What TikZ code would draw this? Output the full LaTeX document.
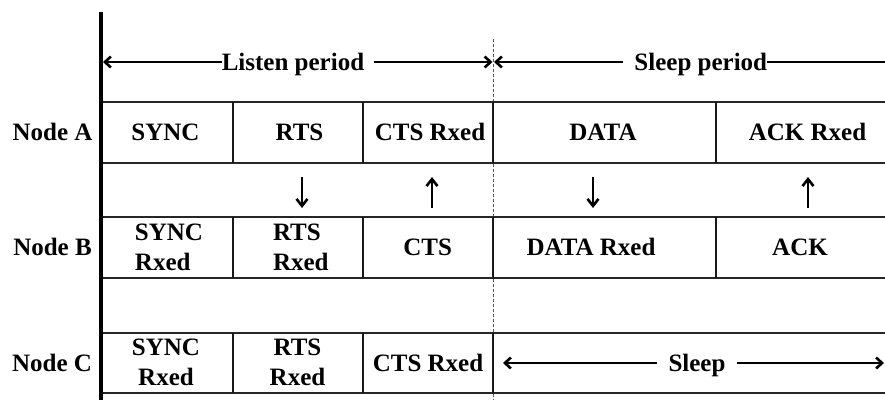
\documentclass[tikz,border=0pt]{standalone}
\usepackage{fontspec}
\setmainfont{Liberation Serif}
\usetikzlibrary{arrows.meta,calc}
\begin{document}
\begin{tikzpicture}[x=1pt,y=-1pt,
  txt/.style={font=\bfseries\fontsize{25}{30}\selectfont, inner sep=0pt, anchor=base},
  twoL/.style={font=\bfseries\fontsize{25}{30}\selectfont, inner sep=0pt, align=left},
  twoC/.style={font=\bfseries\fontsize{25}{30}\selectfont, inner sep=0pt, align=center},
  rowline/.style={draw=black!85, line width=1.3pt},
  divline/.style={draw=black!90, line width=1.2pt},
  axisline/.style={line width=4pt},
  guide/.style={draw=black!65, line width=1pt, dash pattern=on 3pt off 2pt},
  parr/.style={line width=2.2pt, -{Straight Barb[length=6pt,width=11pt,line width=2.6pt]}},
  varr/.style={line width=2.2pt, -{Straight Barb[length=7pt,width=11pt,line width=2.6pt]}}
]
\useasboundingbox (0,0) rectangle (885,400);

% dashed guide between listen and sleep periods
\coordinate (gTop) at (493,39);
\coordinate (gBot) at (493,400);
\draw[guide] (gTop) -- (gBot);

% row lines
\foreach \yy in {102,163,217,278,333,393}
  \draw[rowline] (101,\yy) -- (885,\yy);
% dividers
\foreach \xx in {233,363,493,716}
  \draw[divline] (\xx,102) -- (\xx,163);
\foreach \xx in {233,363,493,716}
  \draw[divline] (\xx,217) -- (\xx,278);
\foreach \xx in {233,363,493}
  \draw[divline] (\xx,333) -- (\xx,393);

% time axis
\draw[axisline] (100.5,12) -- (100.5,400);

% labels
\node[txt] (na) at (52.5,140) {Node A};
\node[txt] (nb) at (52.5,255) {Node B};
\node[txt] (nc) at (52,371) {Node C};

\node[txt] (async) at (165.5,140) {SYNC};
\node[txt] (arts) at (299.5,140) {RTS};
\node[txt] (acts) at (430,140) {CTS Rxed};
\node[txt] (adata) at (603,140) {DATA};
\node[txt] (aack) at (807.5,140) {ACK Rxed};

\node[twoL] (bsync) at (169,247.5) {SYNC\\Rxed};
\node[twoL] (brts) at (300.8,247.5) {RTS\\Rxed};
\node[txt] (bcts) at (427.6,255) {CTS};
\node[txt] (bdata) at (591,255) {DATA Rxed};
\node[txt] (back) at (800,255) {ACK};

\node[twoC] (csync) at (166,362.5) {SYNC\\Rxed};
\node[twoC] (crts) at (297.5,362.5) {RTS\\Rxed};
\node[txt] (ccts) at (428,371) {CTS Rxed};
\node[txt] (csleep) at (697,371) {Sleep};

\node[txt] (lp) at (293,70) {Listen period};
\node[txt] (sp) at (700.8,70) {Sleep period};

% period arrows
\coordinate (lpL) at (103,62);
\coordinate (mid) at (493,62);
\coordinate (spR) at (885,62);
\draw[parr] (lp.west|-lpL) -- (lpL);
\draw[parr] ($(lp.east|-lpL)+(10,0)$) -- ([xshift=-0.5pt]mid);
\draw[parr] ($(sp.west|-lpL)+(-11,0)$) -- ([xshift=1pt]mid);
\draw[line width=2.2pt] (sp.east|-spR) -- (spR);

% sleep arrows in row C
\coordinate (slL) at (503,363);
\coordinate (slR) at (884,363);
\draw[parr] ($(csleep.west|-slL)+(-11,0)$) -- (slL);
\draw[parr] ($(csleep.east|-slL)+(11,0)$) -- (slR);

% message arrows between A and B
\coordinate (v1a) at (302,177); \coordinate (v1b) at (302,208);
\coordinate (v2a) at (432,177); \coordinate (v2b) at (432,208);
\coordinate (v3a) at (593,177); \coordinate (v3b) at (593,208);
\coordinate (v4a) at (808,177); \coordinate (v4b) at (808,208);
\draw[varr] (v1a) -- (v1b);
\draw[varr] (v2b) -- (v2a);
\draw[varr] (v3a) -- (v3b);
\draw[varr] (v4b) -- (v4a);
\end{tikzpicture}
\end{document}
